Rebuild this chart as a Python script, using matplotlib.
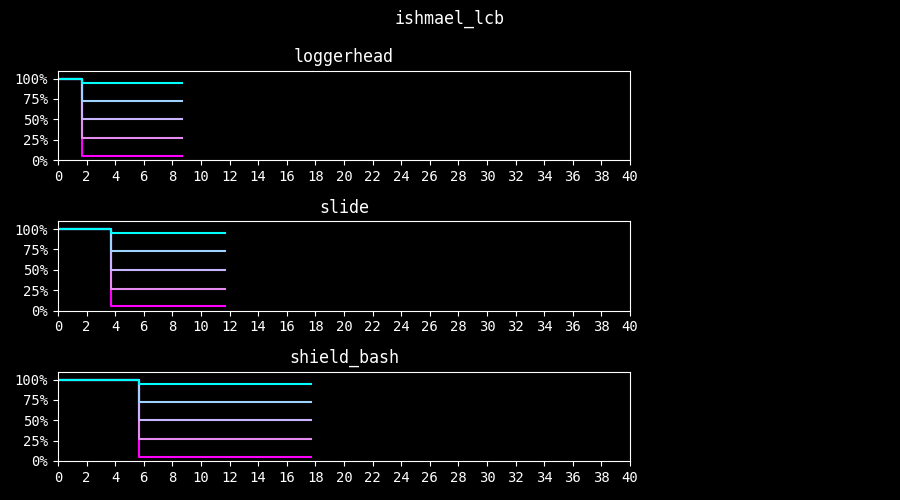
import matplotlib
matplotlib.use('Agg')
import matplotlib.pyplot as plt
from matplotlib.ticker import PercentFormatter

plt.style.use('dark_background')
plt.rcParams['font.family'] = ['DejaVu Sans Mono']
plt.rcParams['font.size'] = 10

title = 'ishmael_lcb'
abilities = ['loggerhead', 'slide', 'shield_bash']
drop_times = [1.68, 3.71, 5.66]
end_times = [8.7, 11.7, 17.68]
levels = [0.95, 0.73, 0.50, 0.27, 0.05]
colors = ['#00ffff', '#a0d2ff', '#c8b4ff', '#e68cf0', '#ff00ff']

fig = plt.figure(figsize=(9, 5), dpi=100)
fig.suptitle(title, fontsize=12, y=0.98)

bottoms = [0.68, 0.379, 0.078]
for name, t0, t1, b in zip(abilities, drop_times, end_times, bottoms):
    ax = fig.add_axes([0.0644, b, 0.6356, 0.179])
    # draw magenta first so cyan ends on top
    for lvl, c in reversed(list(zip(levels, colors))):
        ax.step([0, t0, t1], [1.0, lvl, lvl], where='post', color=c, linewidth=1.5)
    ax.set_title(name, fontsize=12)
    ax.set_xlim(0, 40)
    ax.set_ylim(0, 1.1)
    ax.set_xticks(range(0, 41, 2))
    ax.set_yticks([0, 0.25, 0.5, 0.75, 1.0])
    ax.yaxis.set_major_formatter(PercentFormatter(1.0, decimals=0))

fig.savefig('out.png', facecolor='black')
